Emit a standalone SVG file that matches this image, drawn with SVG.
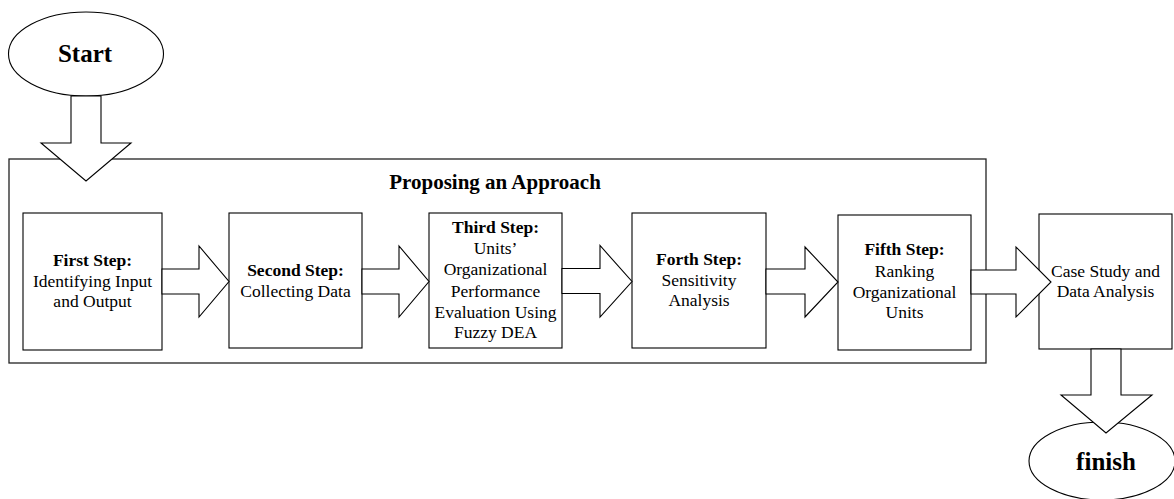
<svg xmlns="http://www.w3.org/2000/svg" width="1174" height="499" viewBox="0 0 1174 499">
<style>
.box{fill:#fff;stroke:#000;stroke-width:1.1}
.frame{fill:none;stroke:#222;stroke-width:1.3}
.arr{fill:#fff;stroke:#000;stroke-width:1.1;stroke-linejoin:miter}
text{font-family:"Liberation Serif","Times New Roman",serif;fill:#000;text-anchor:middle}
.t{font-size:17.5px}
.b{font-weight:bold}
.big{font-size:25px;font-weight:bold}
.title{font-size:21px;font-weight:bold}
</style>
<rect width="1174" height="499" fill="#fff"/>
<g id="approach">
<rect class="frame" x="9" y="159" width="977" height="204"/>
<text class="title" x="495" y="189">Proposing an Approach</text>
</g>
<g id="start">
<ellipse class="box" cx="86" cy="54" rx="77.5" ry="42"/>
<text class="big" x="85" y="62">Start</text>
</g>
<g id="step1">
<rect class="box" x="23" y="213" width="139" height="137"/>
<text class="t" x="92.5"><tspan class="b" x="92.5" y="266">First Step:</tspan><tspan x="92.5" y="287">Identifying Input</tspan><tspan x="92.5" y="307">and Output</tspan></text>
</g>
<g id="step2">
<rect class="box" x="229" y="213" width="133" height="135"/>
<text class="t"><tspan class="b" x="295.5" y="276">Second Step:</tspan><tspan x="295.5" y="297">Collecting Data</tspan></text>
</g>
<g id="step3">
<rect class="box" x="429" y="213" width="133" height="135"/>
<text class="t"><tspan class="b" x="495.5" y="233">Third Step:</tspan><tspan x="495.5" y="254">Units’</tspan><tspan x="495.5" y="275">Organizational</tspan><tspan x="495.5" y="297">Performance</tspan><tspan x="495.5" y="318">Evaluation Using</tspan><tspan x="495.5" y="338">Fuzzy DEA</tspan></text>
</g>
<g id="step4">
<rect class="box" x="632" y="213" width="134" height="135"/>
<text class="t"><tspan class="b" x="699" y="265">Forth Step:</tspan><tspan x="699" y="286">Sensitivity</tspan><tspan x="699" y="306">Analysis</tspan></text>
</g>
<g id="step5">
<rect class="box" x="838" y="215" width="133" height="135"/>
<text class="t"><tspan class="b" x="904.5" y="255">Fifth Step:</tspan><tspan x="904.5" y="277">Ranking</tspan><tspan x="904.5" y="298">Organizational</tspan><tspan x="904.5" y="318">Units</tspan></text>
</g>
<g id="case">
<rect class="box" x="1039" y="214" width="133" height="135"/>
<text class="t"><tspan x="1105.5" y="277">Case Study and</tspan><tspan x="1105.5" y="297">Data Analysis</tspan></text>
</g>
<g id="finish">
<ellipse class="box" cx="1102" cy="461" rx="73" ry="39"/>
<text class="big" x="1106" y="470">finish</text>
</g>
<g id="connectors">
<polygon class="arr" points="71,96 101,96 101,143 131,143 86,181 41,143 71,143"/>
<polygon class="arr" points="162,269 199,269 199,246 229,281.5 199,317 199,294 162,294"/>
<polygon class="arr" points="362,269 399,269 399,246 429,281.5 399,317 399,294 362,294"/>
<polygon class="arr" points="562,268.5 600,268.5 600,245.5 632,281.5 600,317 600,293.5 562,293.5"/>
<polygon class="arr" points="766,269 805,269 805,247 838,282 805,317 805,294 766,294"/>
<polygon class="arr" points="971,270 1016,270 1016,247 1051,282 1016,317 1016,294 971,294"/>
<polygon class="arr" points="1091,349 1121,349 1121,395 1152,395 1106,433 1061,395 1091,395"/>
</g>
</svg>
